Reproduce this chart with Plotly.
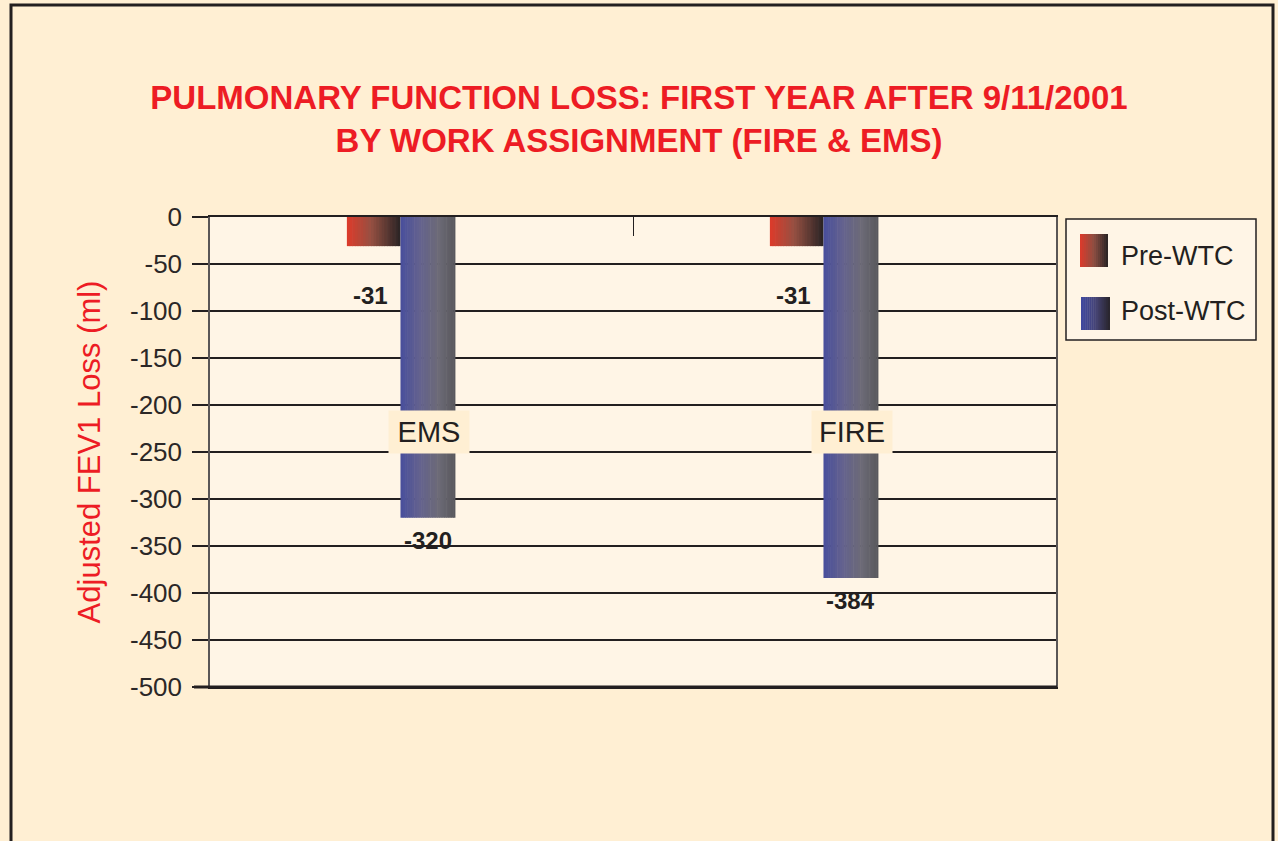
import plotly.graph_objects as go

# ---------------- data ----------------
categories = ["EMS", "FIRE"]
series_names = ["Pre-WTC", "Post-WTC"]
pre_wtc = [-31, -31]
post_wtc = [-320, -384]
y_ticks = [0, -50, -100, -150, -200, -250, -300, -350, -400, -450, -500]
title_lines = ["PULMONARY FUNCTION LOSS: FIRST YEAR AFTER 9/11/2001",
               "BY WORK ASSIGNMENT (FIRE & EMS)"]
y_title = "Adjusted FEV1 Loss (ml)"

# ---------------- style ----------------
W, H = 1278, 841
ML, MR, MT, MB = 210, 222, 217, 154
PW, PH = W - ML - MR, H - MT - MB
PAPER = "#FFEFD3"
PLOT = "#FFF5E6"
INK = "#231F20"
RED = "#ED1C24"
FONT = "Liberation Sans"

pre_stops = [(0.0, (222, 58, 42)), (0.45, (150, 80, 66)), (1.0, (40, 35, 36))]
post_stops = [(0.0, (72, 78, 156)), (0.35, (100, 98, 142)), (0.7, (108, 106, 118)), (1.0, (88, 87, 92))]
leg_pre_stops = [(0.0, (222, 58, 42)), (0.5, (140, 78, 66)), (1.0, (40, 35, 36))]
leg_post_stops = [(0.0, (62, 72, 160)), (0.5, (70, 68, 118)), (1.0, (40, 36, 42))]


def grad(stops, t):
    for (t0, c0), (t1, c1) in zip(stops[:-1], stops[1:]):
        if t <= t1:
            f = 0 if t1 == t0 else (t - t0) / (t1 - t0)
            c = [round(a + (b - a) * f) for a, b in zip(c0, c1)]
            return "rgb(%d,%d,%d)" % tuple(c)
    return "rgb(%d,%d,%d)" % stops[-1][1]


def px2x(px):
    return (px - ML) / PW


def py2y(py):
    return ((H - MB) - py) / PH


fig = go.Figure()

# gradient bars drawn as thin slices of the same bar
bar_specs = [
    (pre_wtc, -0.1764, 0.1267, pre_stops, 20),
    (post_wtc, -0.0497, 0.1299, post_stops, 24),
]
for values, off0, w, stops, n in bar_specs:
    sw = w / n
    for k in range(n):
        last = k == n - 1
        fig.add_trace(go.Bar(
            x=categories, y=values,
            offset=off0 + k * sw,
            width=sw * (1.0 if last else 1.25),
            marker=dict(color=grad(stops, (k + 0.5) / n), line=dict(width=0)),
            showlegend=False, hoverinfo="skip",
        ))

annotations = []
# category labels (sit on top of the bars)
for c in categories:
    annotations.append(dict(
        x=c, y=-229, xref="x", yref="y", xshift=7, text=c, showarrow=False,
        font=dict(family=FONT, size=29, color=INK), bgcolor=PAPER,
        width=78, height=40, xanchor="center", yanchor="middle",
    ))
# value labels
for values, off0, w, ysh, xsh in [(pre_wtc, -0.1764, 0.1267, -49, -3), (post_wtc, -0.0497, 0.1299, -23, 0)]:
    for i, v in enumerate(values):
        annotations.append(dict(
            x=i + off0 + w / 2, y=v, xref="x", yref="y", yshift=ysh, xshift=xsh,
            text="<b>%s</b>" % str(v), showarrow=False,
            font=dict(family=FONT, size=24, color=INK),
            xanchor="center", yanchor="middle",
        ))
# legend texts
for name, py in zip(series_names, [256, 311]):
    annotations.append(dict(
        x=px2x(1119), y=py2y(py), xref="paper", yref="paper", text=name,
        showarrow=False, font=dict(family=FONT, size=27, color=INK),
        xanchor="left", yanchor="middle",
    ))

shapes = []
# outer frame
shapes.append(dict(type="rect", xref="paper", yref="paper",
                   x0=px2x(11), x1=px2x(1273), y0=py2y(900), y1=py2y(5),
                   line=dict(color=INK, width=3), fillcolor="rgba(0,0,0,0)", layer="below"))
# legend box
shapes.append(dict(type="rect", xref="paper", yref="paper",
                   x0=px2x(1066), x1=px2x(1256), y0=py2y(340), y1=py2y(219),
                   line=dict(color=INK, width=1.5), fillcolor=PLOT))
# legend swatches (gradient)
for (x0, x1, y0, y1), stops in [((1080, 1108, 234, 267), leg_pre_stops),
                                ((1081, 1110, 297, 330), leg_post_stops)]:
    n = 14
    sw = (x1 - x0) / n
    for k in range(n):
        shapes.append(dict(type="rect", xref="paper", yref="paper",
                           x0=px2x(x0 + k * sw), x1=px2x(x0 + (k + 1) * sw + (0 if k == n - 1 else 0.4)),
                           y0=py2y(y1), y1=py2y(y0),
                           line=dict(width=0), fillcolor=grad(stops, (k + 0.5) / n)))

# bottom axis rule (slightly heavier, extends under the last tick)
shapes.append(dict(type="line", xref="paper", yref="paper",
                   x0=px2x(194), x1=px2x(1057), y0=0, y1=0,
                   line=dict(color=INK, width=3)))

fig.update_layout(
    width=W, height=H,
    margin=dict(l=ML, r=MR, t=MT, b=MB, pad=0),
    paper_bgcolor=PAPER, plot_bgcolor=PLOT,
    barmode="overlay", showlegend=False,
    title=dict(text="<br>".join("<b>%s</b>" % t for t in title_lines),
               x=0.5, xanchor="center", xref="container",
               y=1 - 109 / H, yanchor="middle", yref="container",
               font=dict(family=FONT, size=33, color=RED)),
    xaxis=dict(type="category", range=[-0.5, 1.5], side="top",
               showticklabels=False, ticks="inside", tickson="boundaries",
               ticklen=19, tickwidth=1.2, tickcolor=INK,
               showline=True, mirror=True, linecolor=INK, linewidth=2.2,
               showgrid=False, zeroline=False, fixedrange=True),
    yaxis=dict(range=[-500, 0], tickvals=y_ticks, ticktext=[str(v) for v in y_ticks],
               ticks="outside", ticklen=16, tickwidth=2, tickcolor=INK,
               showgrid=True, gridcolor=INK, gridwidth=2,
               showline=True, mirror=True, linecolor="#5a5656", linewidth=1.5,
               zeroline=False, ticklabelstandoff=5,
               tickfont=dict(family=FONT, size=26, color="#2b2727"),
               title=dict(text=y_title, standoff=20,
                          font=dict(family=FONT, size=31, color=RED)),
               fixedrange=True),
    annotations=annotations, shapes=shapes,
)

fig.write_html("out.html", config={"displayModeBar": False},
               post_script="document.body.style.margin='0px';")
